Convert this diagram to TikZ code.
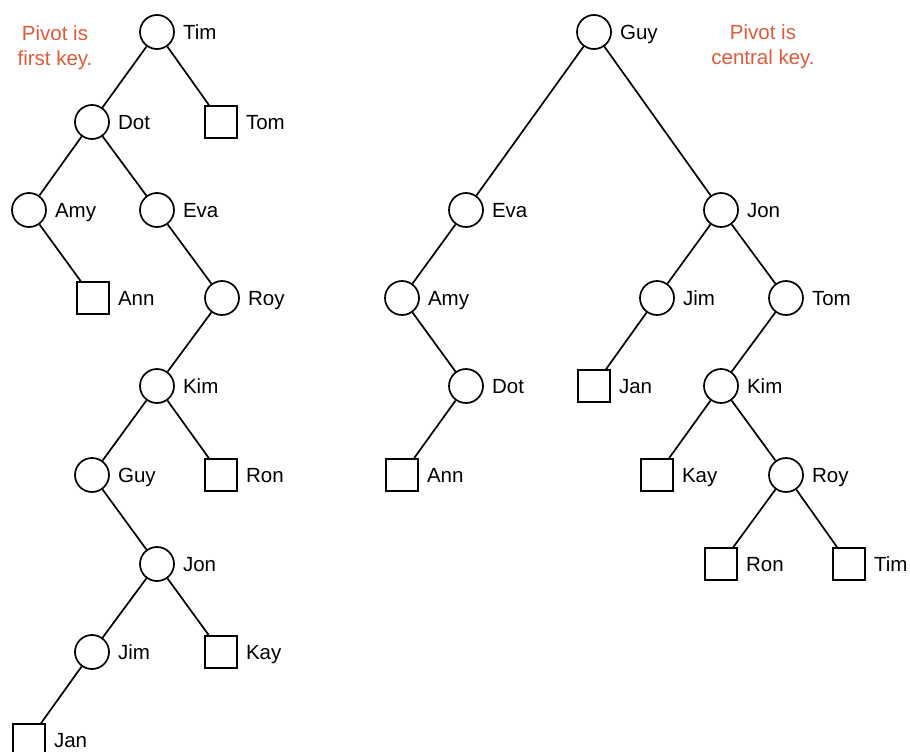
\documentclass[tikz,border=0pt]{standalone}
\usepackage{fontspec}
\setmainfont{Liberation Sans}
\usetikzlibrary{positioning}
\definecolor{pivotnote}{HTML}{E05A3A}
\newcommand{\keyfont}{\fontsize{20.5}{25}\selectfont}
\tikzset{
  keynode/.style={circle, draw, line width=1.7pt, minimum size=34pt, inner sep=0pt},
  leafnode/.style={rectangle, draw, line width=1.7pt, minimum size=32pt, inner sep=0pt},
  keylabel/.style={label distance=8pt, inner sep=0pt, text height=14.5pt, text depth=0pt, font=\keyfont},
  link/.style={line width=1.7pt},
  note/.style={align=center, text=pivotnote, font=\keyfont}
}

\begin{document}
\begin{tikzpicture}[x=1pt, y=-1pt]
  \useasboundingbox (0,0) rectangle (910,752);
  % pivot is first key
  \node[note] (l-note) at (55,48) {Pivot is\\first key.};
  \node[keynode, label={[keylabel]right:Tim}] (l-tim) at (157,32) {};
  \node[keynode, label={[keylabel]right:Dot}] (l-dot) at (92,122) {};
  \node[leafnode, label={[keylabel]right:Tom}] (l-tom) at (221,122) {};
  \node[keynode, label={[keylabel]right:Amy}] (l-amy) at (29,210) {};
  \node[keynode, label={[keylabel]right:Eva}] (l-eva) at (157,210) {};
  \node[leafnode, label={[keylabel]right:Ann}] (l-ann) at (93,298) {};
  \node[keynode, label={[keylabel]right:Roy}] (l-roy) at (222,298) {};
  \node[keynode, label={[keylabel]right:Kim}] (l-kim) at (157,386) {};
  \node[keynode, label={[keylabel]right:Guy}] (l-guy) at (92,475) {};
  \node[leafnode, label={[keylabel]right:Ron}] (l-ron) at (221,475) {};
  \node[keynode, label={[keylabel]right:Jon}] (l-jon) at (157,564) {};
  \node[keynode, label={[keylabel]right:Jim}] (l-jim) at (92,652) {};
  \node[leafnode, label={[keylabel]right:Kay}] (l-kay) at (221,652) {};
  \node[leafnode, label={[keylabel]right:Jan}] (l-jan) at (29,740) {};
  \foreach \a/\b in {tim/dot, tim/tom, dot/amy, dot/eva, amy/ann, eva/roy, roy/kim,
      kim/guy, kim/ron, guy/jon, jon/jim, jon/kay, jim/jan}
    \draw[link] (l-\a) -- (l-\b);

  % pivot is central key
  \node[note] (r-note) at (763,47) {Pivot is\\central key.};
  \node[keynode, label={[keylabel]right:Guy}] (r-guy) at (594,32) {};
  \node[keynode, label={[keylabel]right:Eva}] (r-eva) at (466,210) {};
  \node[keynode, label={[keylabel]right:Jon}] (r-jon) at (721,210) {};
  \node[keynode, label={[keylabel]right:Amy}] (r-amy) at (402,298) {};
  \node[keynode, label={[keylabel]right:Jim}] (r-jim) at (657,298) {};
  \node[keynode, label={[keylabel]right:Tom}] (r-tom) at (786,298) {};
  \node[keynode, label={[keylabel]right:Dot}] (r-dot) at (466,386) {};
  \node[leafnode, label={[keylabel]right:Jan}] (r-jan) at (594,386) {};
  \node[keynode, label={[keylabel]right:Kim}] (r-kim) at (721,386) {};
  \node[leafnode, label={[keylabel]right:Ann}] (r-ann) at (402,475) {};
  \node[leafnode, label={[keylabel]right:Kay}] (r-kay) at (657,475) {};
  \node[keynode, label={[keylabel]right:Roy}] (r-roy) at (786,475) {};
  \node[leafnode, label={[keylabel]right:Ron}] (r-ron) at (721,564) {};
  \node[leafnode, label={[keylabel]right:Tim}] (r-tim) at (849,564) {};
  \foreach \a/\b in {guy/eva, guy/jon, eva/amy, amy/dot, dot/ann, jon/jim, jon/tom,
      jim/jan, tom/kim, kim/kay, kim/roy, roy/ron, roy/tim}
    \draw[link] (r-\a) -- (r-\b);
\end{tikzpicture}
\end{document}
